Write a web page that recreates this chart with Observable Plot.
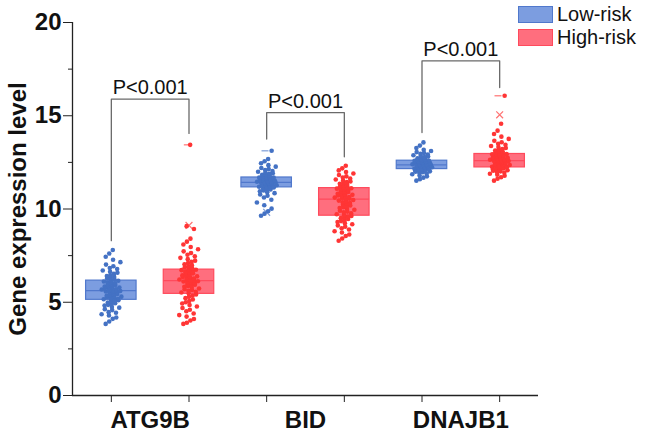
<!DOCTYPE html>
<html>
<head>
<meta charset="utf-8">
<script src="https://cdn.jsdelivr.net/npm/d3@7"></script>
<script src="https://cdn.jsdelivr.net/npm/@observablehq/plot@0.6"></script>
<style>
  html, body { margin: 0; padding: 0; background: #fff; }
  #wrap { position: relative; width: 646px; height: 434px; font-family: "Liberation Sans", Arial, sans-serif; }
  #legend { position: absolute; left: 518px; top: 6px; }
  .row { display: flex; align-items: center; height: 17px; margin-bottom: 6px; }
  .sw { width: 33px; height: 15px; margin-right: 4px; }
  .lab { font-size: 20px; color: #111; line-height: 17px; }
</style>
</head>
<body>
<div id="wrap"><div id="chart"></div>
  <div id="legend"></div>
</div>
<script>
// ---- data ----
const genes = ["ATG9B", "BID", "DNAJB1"];
const groups = ["Low-risk", "High-risk"];
const yTicks = [0, 5, 10, 15, 20];
const yMinorTicks = [2.5, 7.5, 12.5, 17.5];

const q1Low  = [5.13, 11.16, 12.14];
const medLow = [5.62, 11.43, 12.37];
const q3Low  = [6.16, 11.69, 12.59];
const q1High  = [5.45, 9.64, 12.23];
const medHigh = [6.16, 10.53, 12.59];
const q3High  = [6.75, 11.12, 12.95];

const atg9bLow = [3.84, 3.97, 4.11, 4.18, 4.29, 4.36, 4.44, 4.47, 4.58, 4.63, 4.71, 4.74, 4.82, 4.86, 4.9, 4.95, 4.99, 5.03, 5.07, 5.11,
  5.14, 5.16, 5.19, 5.21, 5.25, 5.27, 5.3, 5.33, 5.35, 5.38, 5.42, 5.44, 5.46, 5.49, 5.51, 5.53, 5.56, 5.58, 5.6, 5.61,
  5.63, 5.65, 5.68, 5.7, 5.71, 5.74, 5.77, 5.79, 5.82, 5.84, 5.87, 5.9, 5.92, 5.95, 5.98, 6.01, 6.04, 6.08, 6.11, 6.15,
  6.18, 6.22, 6.27, 6.3, 6.36, 6.41, 6.45, 6.52, 6.58, 6.63, 6.7, 6.78, 6.84, 6.93, 7.02, 7.15, 7.28, 7.44, 7.61, 7.8];
const atg9bHigh = [3.84, 3.9, 4.02, 4.1, 4.23, 4.31, 4.4, 4.52, 4.6, 4.69, 4.77, 4.85, 4.93, 5.0, 5.07, 5.15, 5.22, 5.29, 5.35, 5.42,
  5.47, 5.52, 5.56, 5.61, 5.66, 5.7, 5.74, 5.79, 5.83, 5.87, 5.9, 5.94, 5.97, 6.0, 6.03, 6.06, 6.09, 6.11, 6.13, 6.15,
  6.18, 6.21, 6.22, 6.27, 6.3, 6.31, 6.36, 6.39, 6.4, 6.45, 6.46, 6.51, 6.55, 6.57, 6.6, 6.63, 6.64, 6.69, 6.72, 6.74,
  6.78, 6.83, 6.88, 6.93, 6.99, 7.04, 7.1, 7.17, 7.23, 7.31, 7.38, 7.46, 7.55, 7.64, 7.73, 7.84, 7.96, 8.1, 8.25, 8.41, 8.93, 9.08, 13.44];
const bidLow = [9.64, 9.75, 9.88, 10.02, 10.2, 10.35, 10.5, 10.62, 10.71, 10.78, 10.85, 10.9, 10.95, 10.99, 11.02, 11.05, 11.08, 11.1, 11.12, 11.15,
  11.17, 11.19, 11.2, 11.22, 11.24, 11.25, 11.27, 11.29, 11.3, 11.32, 11.33, 11.35, 11.36, 11.37, 11.38, 11.39, 11.4, 11.41, 11.42, 11.43,
  11.44, 11.45, 11.46, 11.47, 11.49, 11.5, 11.51, 11.53, 11.54, 11.55, 11.57, 11.58, 11.6, 11.61, 11.62, 11.64, 11.65, 11.66, 11.68, 11.69,
  11.71, 11.73, 11.75, 11.78, 11.8, 11.83, 11.86, 11.89, 11.92, 11.96, 12.0, 12.04, 12.09, 12.14, 12.2, 12.27, 12.35, 12.45, 12.56, 12.68, 13.12];
const bidHigh = [8.3, 8.42, 8.55, 8.63, 8.74, 8.81, 8.9, 8.97, 9.05, 9.12, 9.18, 9.24, 9.3, 9.35, 9.41, 9.46, 9.51, 9.55, 9.59, 9.63,
  9.67, 9.72, 9.77, 9.82, 9.86, 9.91, 9.96, 10.0, 10.05, 10.1, 10.14, 10.19, 10.23, 10.28, 10.32, 10.36, 10.41, 10.45, 10.48, 10.52,
  10.55, 10.58, 10.61, 10.64, 10.67, 10.7, 10.73, 10.76, 10.79, 10.82, 10.85, 10.88, 10.91, 10.94, 10.97, 11.0, 11.03, 11.06, 11.09, 11.11,
  11.14, 11.18, 11.22, 11.26, 11.3, 11.35, 11.39, 11.44, 11.48, 11.53, 11.58, 11.63, 11.69, 11.75, 11.82, 11.9, 11.98, 12.07, 12.18, 12.32];
const dnajb1Low = [11.52, 11.6, 11.68, 11.75, 11.8, 11.86, 11.9, 11.94, 11.97, 12.0, 12.02, 12.04, 12.06, 12.08, 12.09, 12.1, 12.11, 12.12, 12.13, 12.14,
  12.15, 12.17, 12.18, 12.2, 12.21, 12.23, 12.24, 12.25, 12.27, 12.28, 12.29, 12.3, 12.31, 12.32, 12.33, 12.34, 12.35, 12.36, 12.36, 12.37,
  12.38, 12.39, 12.4, 12.41, 12.42, 12.43, 12.45, 12.46, 12.47, 12.48, 12.5, 12.51, 12.52, 12.53, 12.54, 12.55, 12.56, 12.57, 12.58, 12.59,
  12.61, 12.63, 12.65, 12.67, 12.69, 12.72, 12.75, 12.78, 12.81, 12.84, 12.88, 12.92, 12.96, 13.0, 13.05, 13.11, 13.18, 13.27, 13.4, 13.57];
const dnajb1High = [11.52, 11.62, 11.7, 11.78, 11.84, 11.89, 11.94, 11.98, 12.02, 12.05, 12.08, 12.1, 12.12, 12.14, 12.16, 12.17, 12.18, 12.2, 12.21, 12.22,
  12.24, 12.26, 12.28, 12.3, 12.32, 12.34, 12.36, 12.38, 12.4, 12.42, 12.44, 12.46, 12.48, 12.5, 12.51, 12.53, 12.54, 12.56, 12.57, 12.58,
  12.6, 12.62, 12.64, 12.66, 12.68, 12.7, 12.72, 12.74, 12.76, 12.78, 12.8, 12.82, 12.84, 12.86, 12.88, 12.9, 12.91, 12.92, 12.93, 12.94,
  12.97, 13.0, 13.03, 13.07, 13.1, 13.14, 13.18, 13.22, 13.27, 13.32, 13.38, 13.44, 13.5, 13.58, 13.66, 13.76, 13.88, 14.02, 14.2, 14.57, 16.07];

// max markers (dash) and 99% markers (cross)
const dashGenes  = ["ATG9B", "BID", "DNAJB1"];
const dashGroups = ["High-risk", "Low-risk", "High-risk"];
const dashValues = [13.44, 13.12, 16.07];
const crossGenes  = ["ATG9B", "BID", "DNAJB1"];
const crossGroups = ["High-risk", "Low-risk", "High-risk"];
const crossValues = [9.12, 9.82, 15.05];

// significance brackets
const pLabels   = ["P<0.001", "P<0.001", "P<0.001"];
const pTop      = [15.89, 15.17, 17.94];
const pLeftEnd  = [8.3, 13.75, 14.1];
const pRightEnd = [14.05, 12.8, 16.51];

// ---- styles ----
const pointColor = {"Low-risk": "#4472c4", "High-risk": "#ff3535"};
const boxFill    = {"Low-risk": "#7c9de0", "High-risk": "#ff6e7e"};
const boxStroke  = {"Low-risk": "#5078cc", "High-risk": "#ff4a5c"};
const FONT = "'Liberation Sans', Arial, sans-serif";

// ---- derived tables ----
const pointSets = [[atg9bLow, atg9bHigh], [bidLow, bidHigh], [dnajb1Low, dnajb1High]];
const posOf = (gene, group) => genes.indexOf(gene) * 2 + groups.indexOf(group) + 1;
const points = genes.flatMap((g, gi) => groups.flatMap((grp, k) =>
  pointSets[gi][k].map((v, i) => ({gene: g, group: grp, pos: posOf(g, grp), value: v, i}))));
const boxes = genes.flatMap((g, gi) => [
  {gene: g, group: "Low-risk", pos: posOf(g, "Low-risk"), q1: q1Low[gi], med: medLow[gi], q3: q3Low[gi]},
  {gene: g, group: "High-risk", pos: posOf(g, "High-risk"), q1: q1High[gi], med: medHigh[gi], q3: q3High[gi]}
]);
const dashes = dashGenes.map((g, i) => ({group: dashGroups[i], pos: posOf(g, dashGroups[i]), value: dashValues[i]}));
const crosses = crossGenes.map((g, i) => ({group: crossGroups[i], pos: posOf(g, crossGroups[i]), value: crossValues[i]}));
const bracketPts = genes.flatMap((g, gi) => {
  const L = posOf(g, "Low-risk"), R = posOf(g, "High-risk");
  return [{gene: g, x: L, y: pLeftEnd[gi]}, {gene: g, x: L, y: pTop[gi]},
          {gene: g, x: R, y: pTop[gi]}, {gene: g, x: R, y: pRightEnd[gi]}];
});
const pText = genes.map((g, gi) => ({x: posOf(g, "Low-risk") + 0.5, y: pTop[gi], label: pLabels[gi]}));

// deterministic horizontal jitter (visual only)
const jit = d => (((d.i * 0.7548776662 + 0.31) % 1) + ((d.i * 0.5698402910 + 0.17) % 1) - 1) * 0.14;
const HW = 0.325;

const groupMarks = groups.flatMap(grp => {
  const b = boxes.filter(d => d.group === grp);
  return [
    Plot.rect(b, {x1: d => d.pos - HW, x2: d => d.pos + HW, y1: "q1", y2: "q3",
      fill: boxFill[grp], stroke: boxStroke[grp], strokeWidth: 1.2}),
    Plot.ruleY(b, {y: "med", x1: d => d.pos - HW, x2: d => d.pos + HW, stroke: boxStroke[grp], strokeWidth: 1.2})
  ];
});
const dotMarks = groups.flatMap(grp => [
  Plot.dot(points.filter(d => d.group === grp), {x: d => d.pos + jit(d), y: "value", r: 2.3,
    fill: pointColor[grp], stroke: "none"}),
  Plot.ruleY(dashes.filter(d => d.group === grp), {y: "value", x1: d => d.pos - 0.06, x2: d => d.pos + 0.03,
    stroke: pointColor[grp], strokeWidth: 1.2, strokeOpacity: 0.7}),
  Plot.dot(crosses.filter(d => d.group === grp), {x: "pos", y: "value", symbol: "times", r: 3.2,
    stroke: pointColor[grp], strokeWidth: 1.2, strokeOpacity: 0.7})
]);

const chart = Plot.plot({
  width: 646, height: 434,
  marginLeft: 72, marginRight: 108, marginTop: 22, marginBottom: 39,
  x: {domain: [0.5, 6.5], axis: null},
  y: {domain: [0, 20], axis: null},
  style: {fontFamily: FONT, background: "#fff", color: "#111", overflow: "visible"},
  marks: [
    ...groupMarks,
    ...dotMarks,
    Plot.line(bracketPts, {x: "x", y: "y", z: "gene", stroke: "#6a6a6a", strokeWidth: 1.3, curve: "linear"}),
    Plot.text(pText, {x: "x", y: "y", text: "label", dy: -5, lineAnchor: "bottom", fontSize: 20, fill: "#111"}),
    Plot.ruleX([0.5], {y1: 0, y2: 20, stroke: "#222", strokeWidth: 1.3}),
    Plot.ruleY([0], {stroke: "#222", strokeWidth: 1.3}),
    Plot.axisY({ticks: yTicks, tickSize: 9, tickPadding: 2, fontSize: 24, fontWeight: "bold", label: null, stroke: "#222"}),
    Plot.axisY({ticks: yMinorTicks, tickSize: 4, tickFormat: () => "", label: null, stroke: "#222"}),
    Plot.axisX({ticks: [1, 2, 3, 4, 5, 6], tickSize: 7, tickFormat: () => "", label: null, stroke: "#222"}),
    Plot.axisX({ticks: [1.5, 3.5, 5.5], tickSize: 0, tickPadding: 15, fontSize: 24, fontWeight: "bold", label: null,
      tickFormat: d => genes[Math.round((d - 1.5) / 2)]}),
    Plot.text(["Gene expression level"], {frameAnchor: "left", text: d => d, rotate: -90, dx: -54,
      textAnchor: "middle", lineAnchor: "middle", fontSize: 24, fontWeight: "bold", fill: "#111"})
  ]
});
document.getElementById("chart").appendChild(chart);

// legend
const legend = document.getElementById("legend");
groups.forEach(grp => {
  const row = document.createElement("div");
  row.className = "row";
  const sw = document.createElement("div");
  sw.className = "sw";
  sw.style.background = boxFill[grp];
  sw.style.border = "1px solid " + boxStroke[grp];
  const lab = document.createElement("span");
  lab.className = "lab";
  lab.textContent = grp;
  row.appendChild(sw); row.appendChild(lab);
  legend.appendChild(row);
});
</script>
</body>
</html>
